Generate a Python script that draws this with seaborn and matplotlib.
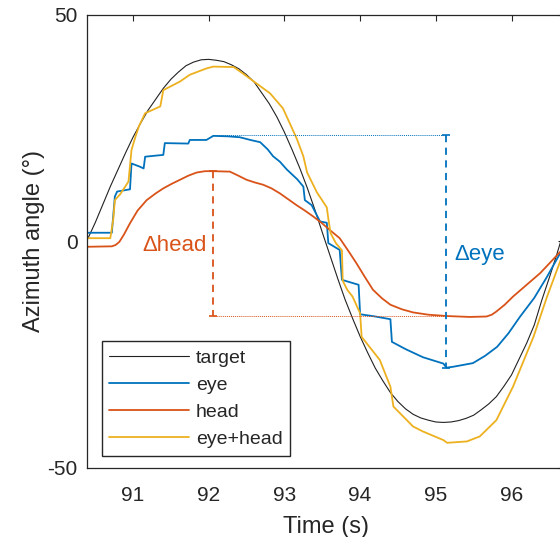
import numpy as np
import pandas as pd
import seaborn as sns
import matplotlib.pyplot as plt

# target trace (deg)
target_t = [90.4, 90.5, 90.6, 90.7, 90.8, 90.9, 91.0, 91.1, 91.2, 91.3, 91.4, 91.5,
            91.6, 91.7, 91.8, 91.9, 92.0, 92.1, 92.2, 92.3, 92.4, 92.5, 92.6, 92.7,
            92.8, 92.9, 93.0, 93.1, 93.2, 93.3, 93.4, 93.5, 93.6, 93.7, 93.8, 93.9,
            94.0, 94.1, 94.2, 94.3, 94.4, 94.5, 94.6, 94.7, 94.8, 94.9, 95.0, 95.1,
            95.2, 95.3, 95.4, 95.5, 95.6, 95.7, 95.8, 95.9, 96.0, 96.1, 96.2, 96.3,
            96.4, 96.5, 96.6, 96.65]
target_deg = [0.5, 4.1, 8.1, 12.1, 15.8, 19.5, 23.0, 26.1, 29.0, 31.4, 33.8, 35.8,
              37.4, 38.8, 39.6, 40.1, 40.2, 40.0, 39.7, 39.0, 38.1, 36.8, 35.2, 32.8,
              30.4, 27.5, 24.1, 20.3, 16.3, 11.9, 7.1, 2.0, -3.0, -8.0, -12.8, -17.0,
              -21.0, -24.6, -28.0, -30.8, -33.4, -35.4, -37.0, -38.2, -39.0, -39.5, -39.9, -40.0,
              -39.9, -39.6, -39.1, -38.4, -37.2, -35.9, -34.3, -32.0, -29.5, -26.0, -22.5, -18.5,
              -13.0, -8.0, -2.8, 0.0]

# eye
eye_t = [90.39, 90.72, 90.76, 90.79, 90.96, 90.98, 91.09, 91.14, 91.16, 91.40, 91.42,
         91.73, 91.75, 91.97, 92.06, 92.25, 92.41, 92.55, 92.68, 92.78, 92.85, 92.94,
         93.03, 93.17, 93.25, 93.27, 93.36, 93.47, 93.56, 93.58, 93.73, 93.76, 93.98,
         94.00, 94.20, 94.40, 94.42, 94.60, 94.83, 95.10, 95.14, 95.23, 95.49, 95.65,
         95.81, 95.96, 96.11, 96.30, 96.47, 96.65]
eye_deg = [1.9, 1.9, 9.9, 11.0, 11.5, 17.2, 16.5, 16.1, 18.7, 19.1, 21.7,
           21.6, 22.4, 22.4, 23.3, 23.2, 23.0, 22.4, 21.9, 20.3, 18.8, 17.6,
           15.9, 13.7, 12.1, 9.1, 8.0, 4.4, 4.1, -0.4, -1.9, -8.5, -9.6,
           -16.1, -16.6, -17.2, -22.2, -23.8, -25.6, -27.0, -27.9, -27.7, -26.9, -25.3,
           -23.3, -20.3, -16.7, -12.5, -7.8, -2.4]

# head
head_t = [90.39, 90.72, 90.77, 90.82, 90.88, 90.96, 91.06, 91.18, 91.30, 91.40, 91.51,
          91.62, 91.73, 91.84, 91.95, 92.06, 92.28, 92.38, 92.50, 92.61, 92.72, 92.83,
          92.94, 93.05, 93.16, 93.27, 93.38, 93.49, 93.60, 93.73, 93.84, 93.95, 94.06,
          94.17, 94.29, 94.40, 94.55, 94.70, 94.90, 95.15, 95.45, 95.67, 95.74, 95.80,
          95.91, 96.02, 96.20, 96.38, 96.65]
head_deg = [-1.2, -1.1, -0.8, -0.1, 1.5, 4.0, 6.8, 9.1, 10.6, 11.7, 12.7,
            13.6, 14.5, 15.2, 15.5, 15.5, 15.4, 14.6, 13.6, 13.0, 12.5, 11.7,
            10.6, 9.3, 8.0, 6.8, 5.5, 4.1, 2.5, 0.7, -2.0, -4.8, -7.8,
            -10.7, -12.6, -14.0, -15.0, -15.7, -16.2, -16.5, -16.7, -16.6, -16.2, -15.5,
            -14.0, -12.2, -9.6, -7.0, -2.2]

# eye+head
sum_t = [90.39, 90.70, 90.74, 90.76, 90.83, 90.94, 90.98, 91.03, 91.08, 91.16, 91.36,
         91.40, 91.62, 91.75, 91.97, 92.06, 92.33, 92.45, 92.63, 92.81, 92.98, 93.07,
         93.16, 93.25, 93.30, 93.43, 93.56, 93.58, 93.61, 93.68, 93.76, 93.77, 93.83,
         93.90, 94.00, 94.02, 94.26, 94.40, 94.44, 94.70, 94.83, 95.10, 95.15, 95.41,
         95.58, 95.80, 96.02, 96.29, 96.47, 96.65]
sum_deg = [0.7, 0.7, 5.0, 9.1, 10.4, 13.2, 20.2, 23.0, 25.5, 28.3, 29.8,
           33.4, 35.3, 36.8, 38.2, 38.6, 38.5, 37.1, 34.9, 32.7, 29.4, 26.1,
           22.8, 18.8, 15.2, 10.8, 7.5, 5.0, 1.8, -0.4, -2.0, -8.7, -10.7,
           -12.2, -15.9, -21.1, -26.2, -32.1, -36.5, -40.9, -42.0, -43.9, -44.5, -44.2,
           -43.1, -39.5, -32.1, -21.1, -12.2, -4.1]

# delta markers
t_head_mark, head_hi, head_lo = 92.05, 15.5, -16.5
t_eye_mark, eye_hi, eye_lo = 95.14, 23.4, -27.9

c_eye = '#0072BD'
c_head = '#D95319'
c_sum = '#EDB120'
c_ax = '#262626'

sns.set_theme(style='white')
plt.rcParams['font.family'] = ['Liberation Sans', 'DejaVu Sans']
plt.rcParams['axes.unicode_minus'] = False

fig = plt.figure(figsize=(5.6, 5.37), dpi=100)
ax = fig.add_axes([87.3 / 560, (537 - 467.7) / 537, (564.5 - 87.3) / 560, (467.7 - 15) / 537])

sns.lineplot(x=target_t, y=target_deg, ax=ax, color='#222222', lw=0.8,
             estimator=None, sort=False, label='target')
sns.lineplot(x=eye_t, y=eye_deg, ax=ax, color=c_eye, lw=1.3,
             estimator=None, sort=False, label='eye')
sns.lineplot(x=head_t, y=head_deg, ax=ax, color=c_head, lw=1.3,
             estimator=None, sort=False, label='head')
sns.lineplot(x=sum_t, y=sum_deg, ax=ax, color=c_sum, lw=1.3,
             estimator=None, sort=False, label='eye+head')

# guide lines
ax.plot([t_head_mark, t_eye_mark], [eye_hi, eye_hi], color=c_eye, lw=0.7, ls=(0, (1, 1)))
ax.plot([t_head_mark, t_eye_mark], [head_lo, head_lo], color=c_head, lw=0.7, ls=(0, (1, 1)))
ax.plot([t_eye_mark, t_eye_mark], [eye_hi, eye_lo], color=c_eye, lw=1.3, ls=(0, (4, 3)))
ax.plot([t_head_mark, t_head_mark], [head_hi, head_lo], color=c_head, lw=1.3, ls=(0, (4, 3)))
ax.plot([t_eye_mark, t_eye_mark], [eye_hi, eye_lo], color=c_eye, ls='none', marker='_', ms=6, mew=1.2)
ax.plot([t_head_mark, t_head_mark], [head_hi, head_lo], color=c_head, ls='none', marker='_', ms=6, mew=1.2)

ax.text(91.98, -1.0, '\u0394head', color=c_head, fontsize=16, ha='right', va='center')
ax.text(95.25, -3.0, '\u0394eye', color=c_eye, fontsize=16, ha='left', va='center')

ax.set_xlim(90.396, 96.70)
ax.set_ylim(-50, 50)
ax.set_xticks([91, 92, 93, 94, 95, 96])
ax.set_yticks([-50, 0, 50])
ax.tick_params(direction='in', top=True, right=True, length=4, width=0.8,
               labelsize=15, colors=c_ax)
ax.tick_params(axis='x', pad=13.5)
ax.tick_params(axis='y', pad=7)
for s in ax.spines.values():
    s.set_color(c_ax)
    s.set_linewidth(0.9)
ax.set_xlabel('Time (s)', fontsize=17, color=c_ax, labelpad=7.5)
ax.set_ylabel('Azimuth angle (\u00b0)', fontsize=17, color=c_ax, labelpad=2)

leg = ax.legend(loc='lower left', bbox_to_anchor=(0.03, 0.026), borderaxespad=0,
                fontsize=14, handlelength=4.1, handletextpad=0.35, labelspacing=0.49,
                borderpad=0.4, fancybox=False, framealpha=1, edgecolor=c_ax)
leg.get_frame().set_linewidth(1.0)
for t in leg.get_texts():
    t.set_color(c_ax)

fig.savefig('out.png', dpi=100, facecolor='white')
